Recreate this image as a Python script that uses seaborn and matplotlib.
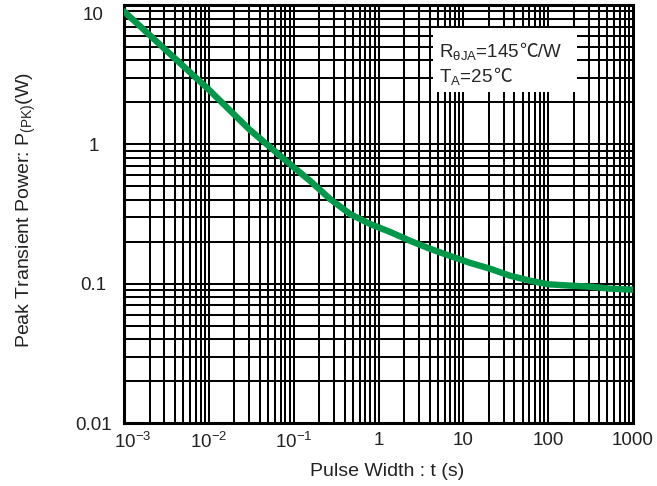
import numpy as np
import pandas as pd
import matplotlib
matplotlib.use("Agg")
import matplotlib.pyplot as plt
import matplotlib.ticker as mticker
import matplotlib.transforms as mtransforms
from matplotlib.patches import Rectangle
import seaborn as sns

# curve
pulse_width = [1e-3, 3e-3, 1e-2, 3e-2, 0.1, 0.156, 0.269, 0.463, 0.796, 1.37, 2.36,
               4.06, 6.98, 12, 20.7, 35.6, 61.4, 100, 182, 313, 538, 1000]
peak_power = [9.0, 4.85, 2.47, 1.28, 0.685, 0.547, 0.405, 0.316, 0.268, 0.235, 0.203,
              0.178, 0.158, 0.141, 0.128, 0.114, 0.105, 0.099, 0.0968, 0.0952, 0.0921, 0.0905]

x_ticks = [1e-3, 1e-2, 1e-1, 1, 10, 100, 1000]
x_ticklabels = ["10$^{-3}$", "10$^{-2}$", "10$^{-1}$", "1", "10", "100", "1000"]
y_ticks = [0.01, 0.1, 1, 10]
y_ticklabels = ["0.01", "0.1", "1", "10"]

df = pd.DataFrame({"t": pulse_width, "P": peak_power})

sns.set_style("white")
plt.rcParams["font.family"] = ["Liberation Sans", "Noto Sans CJK SC", "DejaVu Sans"]
plt.rcParams["mathtext.fontset"] = "custom"
plt.rcParams["mathtext.rm"] = "Liberation Sans"
plt.rcParams["mathtext.it"] = "Liberation Sans:italic"
plt.rcParams["mathtext.default"] = "regular"

fig = plt.figure(figsize=(6.57, 4.86), dpi=100)
ax = fig.add_axes([124 / 657, 63 / 486, 509 / 657, 418 / 486])

sns.lineplot(data=df, x="t", y="P", ax=ax, color="#00994a", linewidth=4.6, zorder=5)

ax.set_xscale("log")
ax.set_yscale("log")
ax.set_xlim(1e-3, 1e3)
ax.set_ylim(0.01, 10)

ax.xaxis.set_minor_locator(mticker.LogLocator(base=10, subs=np.arange(2, 10), numticks=50))
ax.yaxis.set_minor_locator(mticker.LogLocator(base=10, subs=np.arange(2, 10), numticks=50))
ax.xaxis.set_minor_formatter(mticker.NullFormatter())
ax.yaxis.set_minor_formatter(mticker.NullFormatter())
ax.set_xticks(x_ticks)
ax.set_xticklabels(x_ticklabels)
ax.set_yticks(y_ticks)
ax.set_yticklabels(y_ticklabels)
ax.tick_params(which="both", length=0, labelsize=13.5, colors="#222222")
ax.tick_params(axis="x", pad=6.5)
ax.tick_params(axis="y", pad=22)

# the datasheet nudges the first x label inward and centres the y labels
lbl = ax.get_xticklabels()[0]
lbl.set_transform(lbl.get_transform() + mtransforms.ScaledTranslation(0.09, 0, fig.dpi_scale_trans))
for lbl in ax.get_yticklabels():
    lbl.set_ha("center")
top = ax.get_yticklabels()[-1]
top.set_va("top")
top.set_transform(top.get_transform() + mtransforms.ScaledTranslation(0, -0.02, fig.dpi_scale_trans))

ax.grid(True, which="both", color="black", linewidth=1.45)
ax.set_axisbelow(True)
for s in ax.spines.values():
    s.set_color("black")
    s.set_linewidth(2.2)

ax.set_xlabel("Pulse Width : t (s)", fontsize=14, color="#222222")
ax.set_ylabel("Peak Transient Power: P$_{(PK)}$(W)", fontsize=14, color="#222222")
ax.xaxis.set_label_coords(0.517, -0.096)
ax.yaxis.set_label_coords(-0.168, 0.51)

# white note box with the test conditions
ax.add_patch(Rectangle((0.607, 0.792), 0.283, 0.153, transform=ax.transAxes,
                       facecolor="white", edgecolor="none", zorder=6))
t1 = ax.text(0.619, 0.876, "R$_{θJA}$=145", transform=ax.transAxes, fontsize=13.5,
             va="baseline", ha="left", zorder=7)
ax.annotate("℃/W", xy=(1, 0.876), xycoords=(t1, ax.transAxes), fontsize=13.5,
            va="baseline", ha="left", zorder=7)
t2 = ax.text(0.619, 0.816, "T$_{A}$=25", transform=ax.transAxes, fontsize=13.5,
             va="baseline", ha="left", zorder=7)
ax.annotate("℃", xy=(1, 0.816), xycoords=(t2, ax.transAxes), fontsize=13.5,
            va="baseline", ha="left", zorder=7)

fig.savefig("out.png", dpi=100)
